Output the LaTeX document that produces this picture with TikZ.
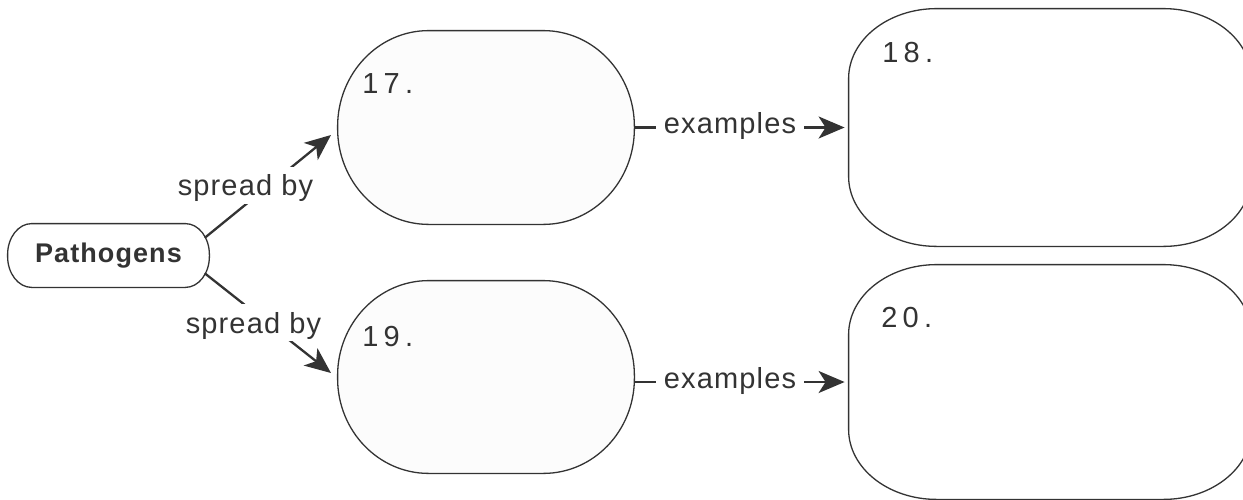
\documentclass[tikz,border=0pt]{standalone}
\usepackage{fontspec}
\setmainfont{Liberation Sans}
\newfontfamily\lblfont[LetterSpace=4]{Liberation Sans}
\newfontfamily\numfont[LetterSpace=18]{Liberation Sans}
\newfontfamily\pathfont[LetterSpace=4]{Liberation Sans}
\usetikzlibrary{arrows.meta,calc}
\pgfdeclarelayer{bg}
\pgfsetlayers{bg,main}
\definecolor{ink}{HTML}{333333}
\definecolor{boxfill}{HTML}{FCFCFC}
\newcommand\ovaloutline[4]{%
  \begin{pgfonlayer}{bg}
  \draw[boxline,fill=#4] ([xshift=#2]#1.north west) -- ([xshift=-#2]#1.north east)
    arc[start angle=90,end angle=0,x radius=#2,y radius=#3]
    -- ([yshift=#3]#1.south east)
    arc[start angle=0,end angle=-90,x radius=#2,y radius=#3]
    -- ([xshift=#2]#1.south west)
    arc[start angle=270,end angle=180,x radius=#2,y radius=#3]
    -- ([yshift=-#3]#1.north west)
    arc[start angle=180,end angle=90,x radius=#2,y radius=#3] -- cycle;
  \end{pgfonlayer}}
\begin{document}
\begin{tikzpicture}[x=0.5pt,y=-0.5pt,
  boxline/.style={draw=ink,line width=0.65pt},
  boxarea/.style={rectangle,inner sep=0pt,text=ink},
  conn/.style={draw=ink,line width=1.15pt,-{Stealth[length=13pt,width=11pt,inset=3.5pt]}},
  lbl/.style={fill=white,text=ink,inner xsep=4pt,inner ysep=0pt,text height=14.5pt,text depth=4pt,font=\lblfont\fontsize{14.5pt}{16pt}\selectfont},
  num/.style={text=ink,inner sep=0pt,anchor=base west,font=\numfont\fontsize{14.5pt}{16pt}\selectfont}]
\useasboundingbox (0,0) rectangle (1243,499);
\clip (0,0) rectangle (1243,499);
% boxes
\node[boxarea,minimum width=100.5pt,minimum height=31.5pt,font=\pathfont\bfseries\fontsize{13.5pt}{16pt}\selectfont] (p) at (108.5,255.5) {Pathogens};
\node[boxarea,minimum width=148pt,minimum height=96.5pt] (b17) at (486,127.5) {};
\node[boxarea,minimum width=148pt,minimum height=96pt] (b19) at (486,377) {};
\node[boxarea,minimum width=201pt,minimum height=118.5pt] (b18) at (1050,127.5) {};
\node[boxarea,minimum width=201pt,minimum height=117pt] (b20) at (1050,382) {};
\ovaloutline{p}{12pt}{15.5pt}{white}
\ovaloutline{b17}{45.5pt}{48pt}{boxfill}
\ovaloutline{b19}{45.5pt}{47.5pt}{boxfill}
\ovaloutline{b18}{44pt}{35pt}{white}
\ovaloutline{b20}{44pt}{35pt}{white}
% numbers
\node[num] (n17) at (362,93) {17.};
\node[num] (n18) at (882,62) {18.};
\node[num] (n19) at (362,346) {19.};
\node[num] (n20) at (881,327) {20.};
% connectors
\coordinate (t17) at (331,135);
\coordinate (t19) at (331,373);
\draw[conn,shorten <=-3pt] (p.12) -- (t17);
\draw[conn,shorten <=-3pt] (p.-12) -- (t19);
\draw[conn,shorten >=2pt] (b17.east) -- (b18.west);
\draw[conn,shorten >=2pt] ([yshift=-2.5pt]b19.east) -- (b20.west);
% labels
\node[lbl,anchor=base] (s1) at (245.5,195.5) {spread by};
\node[lbl,anchor=base] (s2) at (253.5,333) {spread by};
\node[lbl,anchor=mid] (e1) at (730,128) {examples};
\node[lbl,anchor=mid] (e2) at (730,383) {examples};
\end{tikzpicture}
\end{document}
